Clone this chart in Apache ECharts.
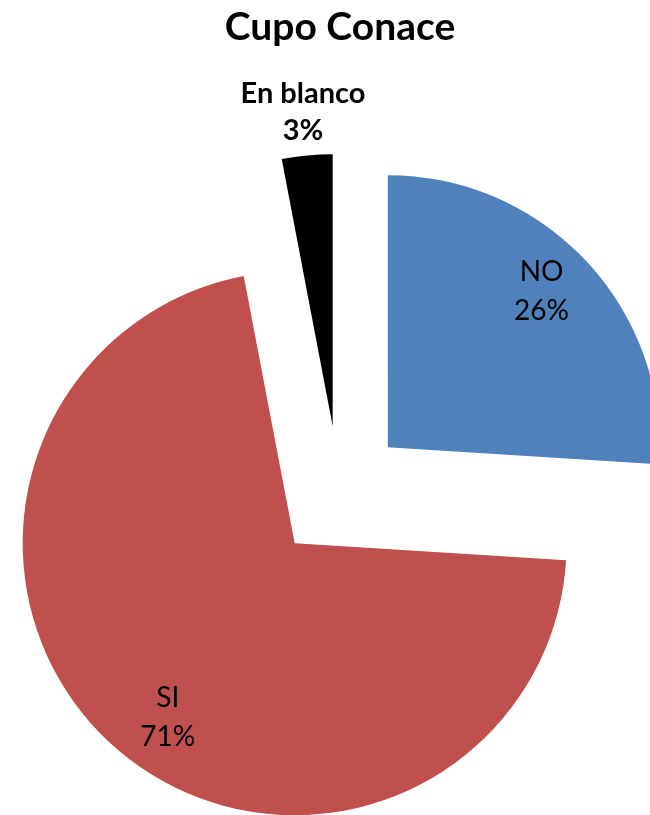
<!DOCTYPE html>
<html>
<head>
<meta charset="utf-8">
<script src="https://cdn.jsdelivr.net/npm/echarts@6/dist/echarts.min.js"></script>
<style>
  html, body { margin: 0; padding: 0; background: #fff; }
  #chart { width: 650px; height: 815px; }
</style>
</head>
<body>
<div id="chart"></div>
<script>
// datos del gráfico
const categorias = ['NO', 'SI', 'En blanco'];
const valores = [26, 71, 3];
const colores = ['#4F81BD', '#C0504D', '#000000'];

const centro = [339, 493];
const radio = 272;
const separacion = 67;

const fmt = p => p.name + '\n' + Math.round(p.percent) + '%';

// tarta transparente que solo dibuja la etiqueta de la categoría "cual"
function serieEtiqueta(cual, anillo, estilo) {
  return {
    type: 'pie',
    silent: true,
    center: centro,
    radius: anillo,
    startAngle: 90,
    selectedMode: 'multiple',
    selectedOffset: separacion,
    avoidLabelOverlap: false,
    itemStyle: { color: 'transparent' },
    label: Object.assign({
      show: true,
      position: 'inside',
      formatter: fmt,
      fontFamily: 'Lato',
      color: '#000'
    }, estilo),
    labelLine: { show: false },
    emphasis: { disabled: true },
    data: categorias.map((c, i) => ({
      name: c,
      value: valores[i],
      selected: true,
      label: { show: i === cual }
    }))
  };
}

let myChart = echarts.init(document.getElementById('chart'));
let option = {
  animation: false,
  title: {
    text: 'Cupo Conace',
    left: 335,
    top: 3,
    textAlign: 'center',
    textStyle: { fontFamily: 'Lato', fontWeight: 'bold', fontSize: 39, color: '#000' }
  },
  series: [
    {
      // tarta principal
      type: 'pie',
      silent: true,
      center: centro,
      radius: radio,
      startAngle: 90,
      selectedMode: 'multiple',
      selectedOffset: separacion,
      avoidLabelOverlap: false,
      label: { show: false },
      labelLine: { show: false },
      emphasis: { disabled: true },
      data: categorias.map((c, i) => ({
        name: c,
        value: valores[i],
        selected: true,
        itemStyle: { color: colores[i] }
      }))
    },
    serieEtiqueta(0, [178, radio], { fontSize: 28, lineHeight: 39, padding: [0, 25, 0, 0] }),
    serieEtiqueta(1, [186, radio], { fontSize: 28, lineHeight: 39, padding: [0, 0, 0, 53] }),
    serieEtiqueta(2, [296, 330], { fontSize: 29, lineHeight: 37, fontWeight: 'bold' })
  ]
};
myChart.setOption(option);
window.addEventListener('resize', function () { myChart.resize(); });
</script>
</body>
</html>
